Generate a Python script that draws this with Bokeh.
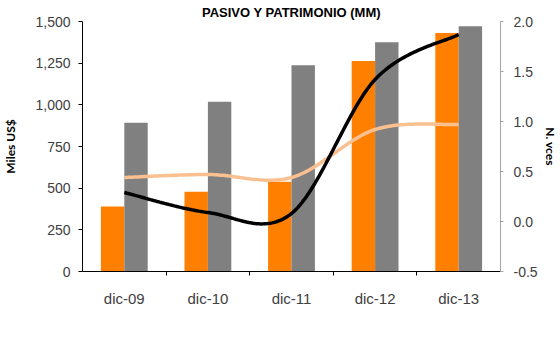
import numpy as np
from bokeh.plotting import figure
from bokeh.models import (Range1d, LinearAxis, FixedTicker, NumeralTickFormatter,
                          Legend, LegendItem)
from bokeh.embed import file_html
from bokeh.resources import INLINE

# --- data -------------------------------------------------------------------
categories = ["dic-09", "dic-10", "dic-11", "dic-12", "dic-13"]
pasivo_total = [390, 478, 538, 1263, 1431]           # Miles US$
total_patrimonio = [893, 1018, 1237, 1375, 1472]     # Miles US$
pasivo_patrimonio = [0.44, 0.47, 0.44, 0.92, 0.97]   # veces
deuda_ebitda = [0.29, 0.09, 0.08, 1.42, 1.87]        # veces

ORANGE = "#FF8000"
GREY = "#808080"
PEACH = "#FAC090"
TEXT = "#404040"
FONT = "Liberation Sans"


def smooth(xs, ys, n=40):
    """Catmull-Rom curve through the points (smoothed line style)."""
    p = np.column_stack([xs, ys]).astype(float)
    p = np.vstack([p[0], p, p[-1]])
    out = []
    t = np.linspace(0, 1, n)[:, None]
    for i in range(1, len(p) - 2):
        p0, p1, p2, p3 = p[i - 1], p[i], p[i + 1], p[i + 2]
        seg = 0.5 * ((2 * p1) + (-p0 + p2) * t + (2 * p0 - 5 * p1 + 4 * p2 - p3) * t ** 2
                     + (-p0 + 3 * p1 - 3 * p2 + p3) * t ** 3)
        out.append(seg if i == 1 else seg[1:])
    c = np.vstack(out)
    return c[:, 0], c[:, 1]


idx = np.arange(len(categories))

p = figure(width=560, height=338, frame_width=418, frame_height=250,
           output_backend="svg", toolbar_location=None,
           x_range=Range1d(-0.5, 4.5), y_range=Range1d(0, 1500),
           min_border_left=82, min_border_right=0, min_border_top=0, min_border_bottom=0,
           title="PASIVO Y PATRIMONIO (MM)")
p.outline_line_color = None
p.xgrid.visible = False
p.ygrid.visible = False
p.background_fill_color = "white"
p.border_fill_color = "white"

p.title.align = "center"
p.title.offset = -7
p.title.text_font = FONT
p.title.text_font_size = "13px"
p.title.text_font_style = "bold"
p.title.text_color = "black"
p.title.standoff = 4

p.extra_y_ranges = {"ratio": Range1d(-0.5, 2.0)}

# bars
bw = 0.28
r_pt = p.vbar(x=idx - bw / 2, top=pasivo_total, width=bw, fill_color=ORANGE, line_color=None)
r_tp = p.vbar(x=idx + bw / 2, top=total_patrimonio, width=bw, fill_color=GREY, line_color=None)

# ratio lines (smoothed)
sx, sy = smooth(idx, pasivo_patrimonio)
r_pp = p.line(sx, sy, y_range_name="ratio", line_color=PEACH, line_width=3.5)
sx2, sy2 = smooth(idx, deuda_ebitda)
r_de = p.line(sx2, sy2, y_range_name="ratio", line_color="black", line_width=3.5)

# left axis
ya = p.yaxis[0]
ya.ticker = FixedTicker(ticks=[0, 250, 500, 750, 1000, 1250, 1500])
ya.formatter = NumeralTickFormatter(format="0,0")
ya.axis_label = "Miles US$"
ya.axis_label_text_font = "Lato"
ya.axis_label_text_font_style = "bold"
ya.axis_label_text_font_size = "12px"
ya.axis_label_text_color = "black"
ya.axis_label_standoff = 14
ya.major_label_text_font = FONT
ya.major_label_text_font_size = "14px"
ya.major_label_text_color = TEXT
ya.major_tick_out = 4
ya.major_tick_in = 0
ya.minor_tick_line_color = None
ya.axis_line_color = "black"
ya.major_tick_line_color = "black"
ya.major_label_standoff = 8

# right axis
ra = LinearAxis(y_range_name="ratio")
ra.ticker = FixedTicker(ticks=[-0.5, 0.0, 0.5, 1.0, 1.5, 2.0])
ra.formatter = NumeralTickFormatter(format="0.0")
ra.axis_label = "N. vces"
ra.axis_label_text_font = "Lato"
ra.axis_label_text_font_style = "bold"
ra.axis_label_text_font_size = "12px"
ra.axis_label_text_color = "black"
ra.axis_label_standoff = 2
ra.major_label_text_font = FONT
ra.major_label_text_font_size = "14px"
ra.major_label_text_color = TEXT
ra.major_tick_out = 3
ra.major_tick_in = 0
ra.minor_tick_line_color = None
ra.axis_line_color = "#A6A6A6"
ra.major_tick_line_color = "#A6A6A6"
ra.major_label_standoff = 10
p.add_layout(ra, "right")

# x axis: labels at category centres, tick marks between categories
xa = p.xaxis[0]
xa.ticker = FixedTicker(ticks=list(idx), minor_ticks=[i + 0.5 for i in idx[:-1]])
xa.major_label_overrides = {int(i): c for i, c in zip(idx, categories)}
xa.major_tick_line_color = None
xa.major_tick_out = 0
xa.major_tick_in = 0
xa.minor_tick_out = 4
xa.minor_tick_in = 0
xa.minor_tick_line_color = "black"
xa.axis_line_color = "black"
xa.major_label_text_font = FONT
xa.major_label_text_font_size = "15px"
xa.major_label_text_color = TEXT
xa.major_label_standoff = 14

# legend: two rows under the axis, entries aligned in two columns
leg_kw = dict(orientation="horizontal", location="top_center",
              background_fill_alpha=0, border_line_color=None,
              label_text_font=FONT, label_text_font_size="11px", label_text_color=TEXT,
              glyph_width=39, glyph_height=10, label_height=12, label_width=213,
              label_standoff=4, spacing=22, margin=0)
leg_a = Legend(items=[LegendItem(label="Pasivo Total", renderers=[r_pt]),
                      LegendItem(label="Total Patrimonio", renderers=[r_tp])],
               padding=1, **leg_kw)
leg_b = Legend(items=[LegendItem(label="Pasivo Total  / Patrimonio", renderers=[r_pp]),
                      LegendItem(label="Deuda Financiera / EBITDA (12 meses)", renderers=[r_de])],
               padding=2, **leg_kw)
p.add_layout(leg_a, "below")
p.add_layout(leg_b, "below")

open("out.html", "w").write(file_html(p, INLINE))
